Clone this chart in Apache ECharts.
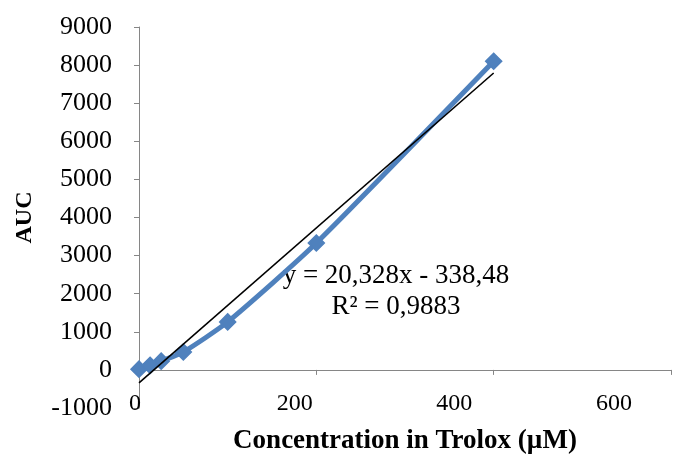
<!DOCTYPE html>
<html>
<head>
<meta charset="utf-8">
<script src="https://cdn.jsdelivr.net/npm/echarts@6/dist/echarts.min.js"></script>
<style>
  html, body { margin: 0; padding: 0; background: #fff; }
  #chart { width: 698px; height: 457px; }
</style>
</head>
<body>
<div id="chart"></div>
<script>
// Trolox calibration: concentration (µM) vs area under the curve
const concentrations = [0, 12.5, 25, 50, 100, 200, 400];
const aucValues = [20, 120, 230, 470, 1260, 3330, 8100];

// Linear trendline as reported on the chart
const slope = 20.328;
const intercept = -338.48;
const rSquared = 0.9883;

const xTicks = [0, 200, 400, 600];
const yTicks = [-1000, 0, 1000, 2000, 3000, 4000, 5000, 6000, 7000, 8000, 9000];

const fmt = (v, d) => v.toFixed(d).replace('.', ',');
const equationText = 'y = ' + fmt(slope, 3) + 'x - ' + fmt(-intercept, 2);
const rText = 'R² = ' + fmt(rSquared, 4);

const points = concentrations.map((c, i) => [c, aucValues[i]]);
const xFirst = concentrations[0];
const xLast = concentrations[concentrations.length - 1];
const trendPoints = [xFirst, xLast].map(x => [x, slope * x + intercept]);

const axisGrey = '#868686';
const serif = '"Liberation Serif", "Times New Roman", serif';
const xMin = xTicks[0], xMax = xTicks[xTicks.length - 1];
const yMin = yTicks[0], yMax = yTicks[yTicks.length - 1];

const chart = echarts.init(document.getElementById('chart'));
chart.setOption({
  backgroundColor: '#ffffff',
  animation: false,
  grid: [
    { left: 139, right: 27, top: 27, bottom: 49, outerBoundsMode: 'none', containLabel: false },
    // label row for the horizontal axis
    { left: 135, right: 84, top: 27, bottom: 68, outerBoundsMode: 'none', containLabel: false }
  ],
  xAxis: [
    {
      type: 'value', gridIndex: 0, position: 'bottom',
      min: xMin, max: xMax, interval: 200,
      axisLine: { show: true, onZero: true, lineStyle: { color: axisGrey, width: 1 } },
      axisTick: { show: true, inside: false, length: 5, lineStyle: { color: axisGrey } },
      axisLabel: { show: false },
      splitLine: { show: false }
    },
    {
      type: 'value', gridIndex: 1, position: 'bottom',
      min: xMin, max: xMax, interval: 200,
      axisLine: { show: false, onZero: false },
      axisTick: { show: false },
      axisLabel: { show: true, margin: 3, fontFamily: serif, fontSize: 24, color: '#000' },
      splitLine: { show: false }
    },
    {
      // axis title along the bottom of the plot
      type: 'value', gridIndex: 0, position: 'bottom',
      min: xMin, max: xMax, interval: 200,
      axisLine: { show: false, onZero: false },
      axisTick: { show: false },
      axisLabel: { show: false },
      splitLine: { show: false },
      name: 'Concentration in Trolox (µM)',
      nameLocation: 'middle',
      nameGap: 33,
      nameTextStyle: { fontFamily: serif, fontWeight: 'bold', fontSize: 27, color: '#000', verticalAlign: 'middle' }
    }
  ],
  yAxis: [
    {
      type: 'value', gridIndex: 0,
      min: yMin, max: yMax, interval: 1000,
      axisLine: { show: true, onZero: false, lineStyle: { color: axisGrey, width: 1 } },
      axisTick: { show: true, inside: false, length: 5, lineStyle: { color: axisGrey } },
      axisLabel: {
        show: true, margin: 27, fontFamily: serif, fontSize: 26, color: '#000',
        formatter: v => String(v)
      },
      splitLine: { show: false },
      name: 'AUC',
      nameLocation: 'middle',
      nameRotate: 90,
      nameGap: 102,
      nameTextStyle: { fontFamily: serif, fontWeight: 'bold', fontSize: 24, color: '#000' }
    },
    {
      type: 'value', gridIndex: 1, show: false,
      min: yMin, max: yMax
    }
  ],
  series: [
    {
      name: 'AUC',
      type: 'line',
      xAxisIndex: 0, yAxisIndex: 0,
      data: points,
      smooth: 0.2,
      clip: false,
      color: '#4F81BD',
      lineStyle: { color: '#4F81BD', width: 5 },
      symbol: 'diamond',
      symbolSize: 16,
      itemStyle: { color: '#4F81BD', borderColor: '#4F81BD', borderWidth: 1.5 },
      z: 2
    },
    {
      name: 'Linear trend',
      type: 'line',
      xAxisIndex: 0, yAxisIndex: 0,
      data: trendPoints,
      showSymbol: false,
      symbol: 'none',
      clip: false,
      lineStyle: { color: '#000', width: 1.6 },
      z: 3
    }
  ],
  graphic: [
    {
      type: 'text',
      x: 396, y: 276,
      style: {
        text: equationText,
        textAlign: 'center', textVerticalAlign: 'middle',
        font: '27px "Liberation Serif"', fill: '#000'
      }
    },
    {
      type: 'text',
      x: 396, y: 307,
      style: {
        text: rText,
        textAlign: 'center', textVerticalAlign: 'middle',
        font: '27px "Liberation Serif"', fill: '#000'
      }
    }
  ]
});
</script>
</body>
</html>
